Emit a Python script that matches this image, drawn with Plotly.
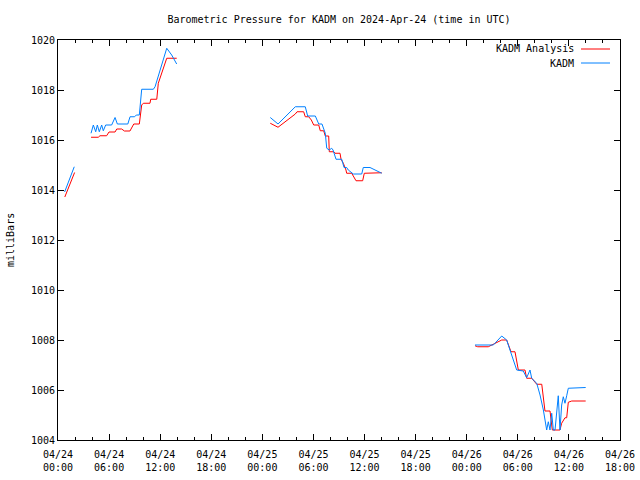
import pandas as pd
import plotly.graph_objects as go

BASE = pd.Timestamp("2024-04-24 00:00")

# ---- Data: hours since 2024-04-24 00:00 UTC, pressure in mb ----
# KADM Analysis (red)
ana_h1 = [0.8, 1.95]
ana_p1 = [1013.72, 1014.70]
ana_h2 = [3.88, 4.73, 4.93, 5.71, 5.99, 6.7, 6.9, 7.48, 7.8, 8.45, 8.9, 9.55, 9.83, 10.02, 10.8, 10.89, 11.6, 11.78, 12.77, 13.94]
ana_p2 = [1016.11, 1016.11, 1016.17, 1016.17, 1016.32, 1016.32, 1016.44, 1016.44, 1016.36, 1016.36, 1016.64, 1016.64, 1017.4, 1017.47, 1017.47, 1017.63, 1017.63, 1018.27, 1019.27, 1019.27]
ana_h3 = [24.93, 25.84, 27.87, 28.07, 28.85, 29.04, 29.44, 29.75, 30.03, 30.62, 30.8, 31.2, 31.39, 31.79, 31.86, 32.4, 32.53, 33.12, 33.24, 33.51, 33.82, 33.9, 34.49, 35.0, 35.78, 35.97, 38.02]
ana_p3 = [1016.67, 1016.51, 1017.04, 1017.13, 1017.13, 1016.93, 1016.93, 1016.8, 1016.6, 1016.6, 1016.37, 1016.37, 1016.16, 1016.16, 1015.53, 1015.53, 1015.47, 1015.47, 1015.23, 1015.07, 1014.8, 1014.67, 1014.67, 1014.37, 1014.37, 1014.67, 1014.69]
ana_h4 = [48.97, 49.29, 50.53, 51.12, 52.11, 52.69, 53.0, 53.2, 53.67, 53.87, 54.06, 54.84, 55.04, 55.63, 56.22, 56.81, 57.0, 57.19, 57.78, 58.05, 58.95, 59.15, 59.54, 59.74, 59.93, 60.33, 61.97]
ana_p4 = [1007.77, 1007.73, 1007.73, 1007.83, 1008.0, 1008.0, 1007.73, 1007.53, 1007.53, 1007.1, 1006.8, 1006.8, 1006.47, 1006.47, 1006.23, 1006.23, 1005.73, 1005.16, 1005.16, 1004.4, 1004.4, 1004.67, 1004.89, 1004.89, 1005.51, 1005.56, 1005.56]

# KADM observations (blue)
obs_h1 = [0.78, 1.91]
obs_p1 = [1013.92, 1014.93]
obs_h2 = [3.88, 4.15, 4.43, 4.62, 4.85, 5.13, 5.32, 5.6, 6.3, 6.7, 6.97, 8.2, 8.46, 9.0, 9.2, 9.55, 9.83, 11.2, 11.4, 11.9, 12.77, 13.35, 13.94]
obs_p2 = [1016.27, 1016.6, 1016.33, 1016.6, 1016.33, 1016.6, 1016.37, 1016.6, 1016.6, 1016.9, 1016.64, 1016.64, 1016.93, 1016.93, 1017.0, 1017.0, 1018.03, 1018.03, 1018.13, 1018.67, 1019.67, 1019.4, 1019.04]
obs_h3 = [24.93, 25.84, 27.87, 29.04, 29.32, 30.22, 30.62, 31.0, 31.39, 31.56, 31.86, 32.14, 32.3, 32.65, 33.32, 33.59, 33.9, 34.09, 34.68, 35.67, 35.85, 36.64, 38.02]
obs_p3 = [1016.9, 1016.64, 1017.33, 1017.33, 1016.96, 1016.96, 1016.64, 1016.64, 1016.27, 1015.67, 1015.6, 1015.67, 1015.6, 1015.23, 1015.23, 1014.9, 1014.9, 1014.8, 1014.64, 1014.64, 1014.9, 1014.9, 1014.67]
obs_h4 = [48.97, 51.12, 52.11, 52.5, 52.69, 53.08, 53.28, 53.67, 53.87, 54.64, 55.04, 55.43, 55.63, 56.22, 56.61, 57.0, 57.39, 57.58, 57.78, 57.98, 58.17, 58.37, 58.75, 58.95, 59.15, 59.34, 59.54, 59.74, 59.93, 61.97]
obs_p4 = [1007.8, 1007.8, 1008.16, 1008.07, 1008.0, 1007.6, 1007.4, 1007.03, 1006.8, 1006.76, 1006.49, 1006.8, 1006.47, 1006.27, 1005.8, 1005.2, 1004.4, 1004.73, 1004.4, 1005.07, 1004.4, 1004.4, 1005.77, 1004.4, 1005.4, 1005.73, 1005.47, 1005.77, 1006.07, 1006.1]

SERIES_NAMES = ["KADM Analysis", "KADM"]
COLORS = ["#ff0000", "#0080ff"]
TITLE = "Barometric Pressure for KADM on 2024-Apr-24 (time in UTC)"
FONT = "DejaVu Sans Mono"


def join(hs, ps):
    xs, ys = [], []
    for h, p in zip(hs, ps):
        if xs:
            xs.append(None)
            ys.append(None)
        xs.extend(BASE + pd.to_timedelta(h, unit="h"))
        ys.extend(p)
    return xs, ys


ax, ay = join([ana_h1, ana_h2, ana_h3, ana_h4], [ana_p1, ana_p2, ana_p3, ana_p4])
ox, oy = join([obs_h1, obs_h2, obs_h3, obs_h4], [obs_p1, obs_p2, obs_p3, obs_p4])

fig = go.Figure()
fig.add_trace(go.Scatter(x=ax, y=ay, mode="lines", name=SERIES_NAMES[0],
                         line=dict(color=COLORS[0], width=1), connectgaps=False))
fig.add_trace(go.Scatter(x=ox, y=oy, mode="lines", name=SERIES_NAMES[1],
                         line=dict(color=COLORS[1], width=1), connectgaps=False))

W, H = 640, 480
L, R, T, B = 58, 20, 40, 40
pw, ph = W - L - R, H - T - B

def px_x(x):
    return (x - L) / pw

def px_y(y):
    return 1 - (y - T) / ph

# Legend drawn gnuplot style: text right-aligned, sample line to its right
for i, (name, col) in enumerate(zip(SERIES_NAMES, COLORS)):
    yy = 49 + i * 14
    fig.add_annotation(x=px_x(576), y=px_y(yy), xref="paper", yref="paper",
                       text=name, showarrow=False, xanchor="right", yanchor="middle",
                       font=dict(family=FONT, size=10, color="black"))
    fig.add_shape(type="line", xref="paper", yref="paper",
                  x0=px_x(581), x1=px_x(610), y0=px_y(yy), y1=px_y(yy),
                  line=dict(color=col, width=1))

fig.add_annotation(x=px_x(10), y=0.5, xref="paper", yref="paper", text="milliBars",
                   showarrow=False, textangle=-90, xanchor="center", yanchor="middle",
                   font=dict(family=FONT, size=10, color="black"))

fig.update_layout(
    width=W, height=H,
    margin=dict(l=L, r=R, t=T, b=B, autoexpand=False),
    paper_bgcolor="white", plot_bgcolor="white",
    showlegend=False,
    font=dict(family=FONT, size=10, color="black"),
    title=dict(text=TITLE, x=0.5, xref="paper", xanchor="center", y=1 - 19 / H, yanchor="middle",
               font=dict(family=FONT, size=10, color="black")),
)
fig.update_xaxes(
    type="date", automargin=False,
    range=[BASE, BASE + pd.Timedelta(hours=66)],
    tick0=BASE, dtick=6 * 3600 * 1000, tickformat="%m/%d<br>%H:%M",
    ticks="inside", ticklen=6, tickcolor="black", tickwidth=1, ticklabelstandoff=5,
    minor=dict(dtick=2 * 3600 * 1000, ticks="inside", ticklen=3, tickcolor="black", showgrid=False),
    showline=True, linecolor="black", linewidth=1, mirror="allticks",
    showgrid=False, zeroline=False,
)
fig.update_yaxes(
    automargin=False,
    range=[1004, 1020], dtick=2, tick0=1004,
    ticks="inside", ticklen=6, tickcolor="black", tickwidth=1,
    showline=True, linecolor="black", linewidth=1, mirror="allticks",
    showgrid=False, zeroline=False,
)

fig.write_html("out.html")
